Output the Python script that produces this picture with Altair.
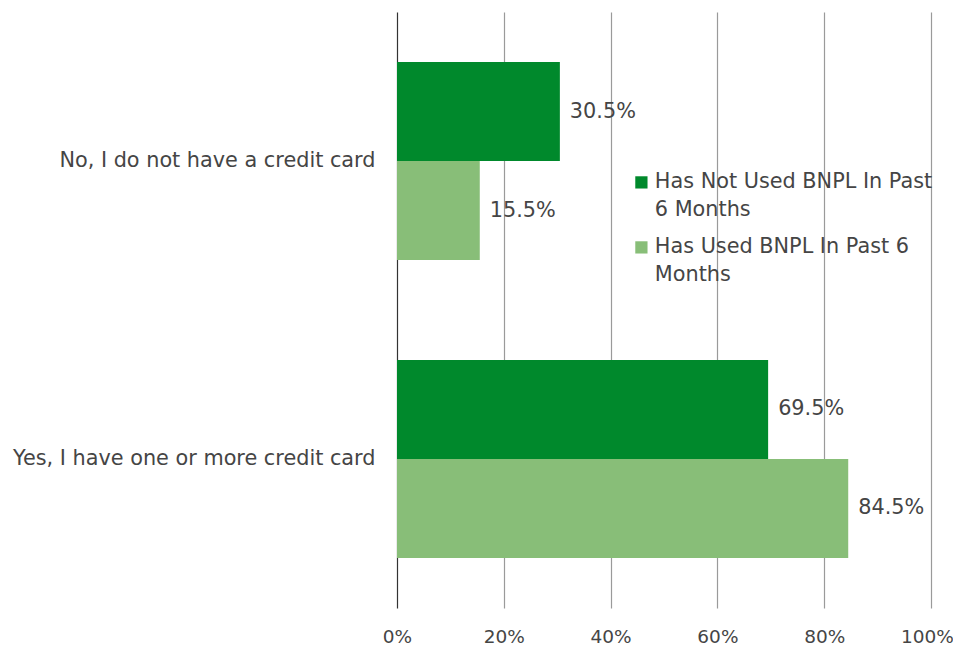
import altair as alt
import pandas as pd

categories = ["No, I do not have a credit card", "Yes, I have one or more credit card"]
series = ["Has Not Used BNPL In Past 6 Months", "Has Used BNPL In Past 6 Months"]
not_used = [30.5, 69.5]
used = [15.5, 84.5]
colors = ["#00892C", "#88BE78"]

rows = []
for i, c in enumerate(categories):
    rows.append({"category": c, "series": series[0], "value": not_used[i] / 100})
    rows.append({"category": c, "series": series[1], "value": used[i] / 100})
df = pd.DataFrame(rows)

FONT = "DejaVu Sans"
FS = 20.8
TXT = "#454545"

label_expr = (
    "datum.label == 'Has Not Used BNPL In Past 6 Months' ? "
    "['Has Not Used BNPL In Past', '6 Months'] : ['Has Used BNPL In Past 6', 'Months']"
)

base = alt.Chart(df).encode(
    y=alt.Y(
        "category:N",
        sort=categories,
        scale=alt.Scale(paddingInner=0.3356, paddingOuter=0.168),
        axis=alt.Axis(title=None, labelFontSize=FS, labelColor=TXT, labelFont=FONT,
                      labelPadding=22, domain=False, ticks=False, labelLimit=500),
    ),
    yOffset=alt.YOffset("series:N", sort=series),
    x=alt.X(
        "value:Q",
        scale=alt.Scale(domain=[0, 1]),
        axis=alt.Axis(title=None, format="%", values=[0, 0.2, 0.4, 0.6, 0.8, 1.0],
                      grid=True, gridColor={"expr": "datum.value == 0 ? '#333333' : '#9a9a9a'"},
                      gridWidth=1.2, domain=False, ticks=False, labelPadding=19,
                      labelFlush=False,
                      labelOffset={"expr": "datum.value == 1 ? -4 : 0"},
                      labelFontSize=18.5, labelColor=TXT, labelFont=FONT),
    ),
)

bars = base.mark_bar().encode(
    color=alt.Color(
        "series:N",
        sort=series,
        scale=alt.Scale(domain=series, range=colors),
        legend=alt.Legend(
            title=None, orient="none", legendX=234, legendY=160,
            symbolType="square", symbolSize=150, symbolStrokeWidth=0,
            labelFontSize=FS, labelColor=TXT, labelFont=FONT, labelExpr=label_expr,
            labelOffset=3, rowPadding=15, padding=0, labelLimit=400,
        ),
    )
)

labels = base.mark_text(align="left", dx=10, fontSize=FS, color=TXT, font=FONT).encode(
    text=alt.Text("value:Q", format=".1%")
)

chart = (
    alt.layer(bars, labels)
    .properties(width=534, height=596, autosize="none",
                padding={"left": 389, "top": 4, "right": 22, "bottom": 41})
    .configure(view={"stroke": None}, style={"guide-label": {"lineHeight": 28}})
)

chart.save("out.html", embed_options={"renderer": "svg", "actions": False})
